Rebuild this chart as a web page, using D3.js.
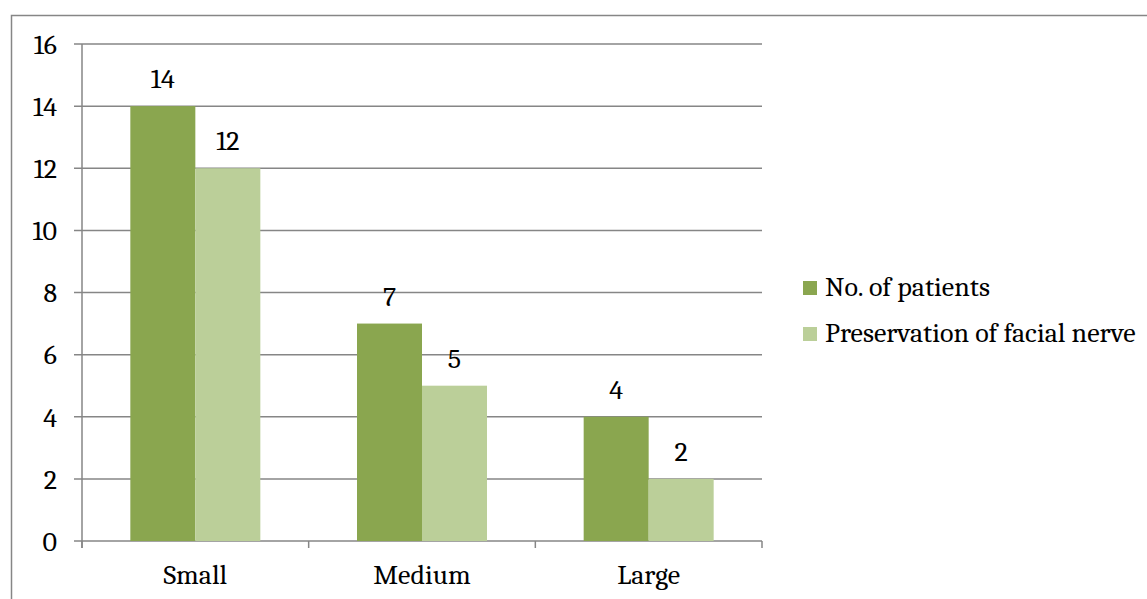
<!DOCTYPE html>
<html><head><meta charset="utf-8">
<script src="https://cdn.jsdelivr.net/npm/d3@7"></script>
<style>html,body{margin:0;padding:0;background:#fff;}svg{display:block;}</style>
</head><body>
<svg id="c" width="1147" height="599"></svg>
<script>
const categories = ["Small", "Medium", "Large"];
const seriesNames = ["No. of patients", "Preservation of facial nerve"];
const patients = [14, 7, 4];
const preserved = [12, 5, 2];
const yTicks = [0, 2, 4, 6, 8, 10, 12, 14, 16];
const colors = ["#8aa64f", "#bbcf99"];

const svg = d3.select("#c");
const font = "Cambria, 'Liberation Serif', 'DejaVu Serif', serif";
const fs = 28;
const m = {l: 82, r: 762, t: 44, b: 541};

svg.append("rect").attr("x", 11.5).attr("y", 15.5).attr("width", 1140).attr("height", 600)
  .attr("fill", "none").attr("stroke", "#868686").attr("stroke-width", 1.5);

const x = d3.scaleBand().domain(categories).range([m.l, m.r]).paddingInner(0).paddingOuter(0);
const y = d3.scaleLinear().domain([0, 16]).range([m.b, m.t]);

// gridlines
svg.append("g").selectAll("line").data(yTicks).join("line")
  .attr("x1", m.l - 8).attr("x2", m.r).attr("y1", d => y(d)).attr("y2", d => y(d))
  .attr("stroke", "#868686").attr("stroke-width", 1.5);

// y axis line
svg.append("line").attr("x1", m.l).attr("x2", m.l).attr("y1", m.t).attr("y2", m.b + 7)
  .attr("stroke", "#868686").attr("stroke-width", 1.5);

// y labels
svg.append("g").selectAll("text").data(yTicks).join("text")
  .attr("x", 57).attr("y", d => y(d)).attr("dy", "0.35em").attr("text-anchor", "end")
  .attr("font-family", font).attr("font-size", fs).attr("fill", "#000").text(d => d);

// x ticks
const xt = [m.l].concat(categories.map(c => x(c) + x.bandwidth()));
svg.append("g").selectAll("line").data(xt).join("line")
  .attr("x1", d => d).attr("x2", d => d).attr("y1", m.b).attr("y2", m.b + 7)
  .attr("stroke", "#868686").attr("stroke-width", 1.5);

// x labels
svg.append("g").selectAll("text").data(categories).join("text")
  .attr("x", d => x(d) + x.bandwidth() / 2).attr("y", 584).attr("text-anchor", "middle")
  .attr("font-family", font).attr("font-size", fs).attr("fill", "#000").text(d => d);

// bars
const series = [patients, preserved];
const barW = 65;
series.forEach((vals, si) => {
  const g = svg.append("g");
  g.selectAll("rect").data(vals).join("rect")
    .attr("x", (d, i) => x(categories[i]) + x.bandwidth() / 2 - barW + si * barW)
    .attr("width", barW)
    .attr("y", d => y(d)).attr("height", d => m.b - y(d))
    .attr("fill", colors[si]);
  g.selectAll("text").data(vals).join("text")
    .attr("x", (d, i) => x(categories[i]) + x.bandwidth() / 2 - barW + si * barW + barW / 2)
    .attr("y", d => y(d) - 18).attr("text-anchor", "middle")
    .attr("font-family", font).attr("font-size", fs).attr("fill", "#000").text(d => d);
});

// legend
const lg = svg.append("g");
seriesNames.forEach((n, i) => {
  lg.append("rect").attr("x", 803).attr("y", 281 + i * 46).attr("width", 14).attr("height", 14).attr("fill", colors[i]);
  lg.append("text").attr("x", 825).attr("y", 296 + i * 46).attr("font-family", font).attr("font-size", fs)
    .attr("fill", "#000").text(n);
});
</script>
</body></html>
